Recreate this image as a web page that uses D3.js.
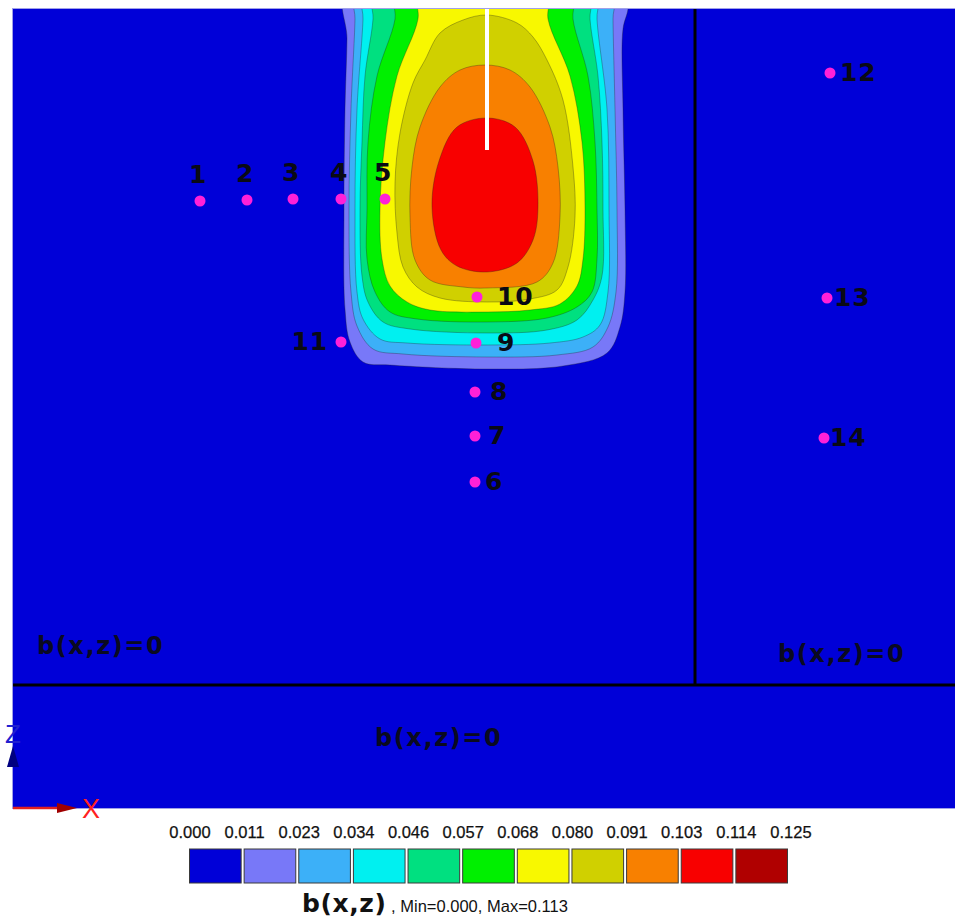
<!DOCTYPE html>
<html>
<head>
<meta charset="utf-8">
<script src="https://cdn.jsdelivr.net/npm/d3@7"></script>
<style>
  html, body { margin: 0; padding: 0; background: #ffffff; }
  svg { display: block; }
</style>
</head>
<body>
<svg id="chart" width="955" height="917"></svg>
<script>
// Contour levels of b(x,z) and the fill colour of each band
const levels = [0.000, 0.011, 0.023, 0.034, 0.046, 0.057, 0.068, 0.080, 0.091, 0.103, 0.114, 0.125];
const levelLabels = ["0.000", "0.011", "0.023", "0.034", "0.046", "0.057", "0.068", "0.080", "0.091", "0.103", "0.114", "0.125"];
const bandColors = ["#0000d8", "#7878f8", "#3cb0f8", "#00f0f0", "#00e080", "#00f000", "#f8f800", "#d0d000", "#f88000", "#f80000", "#b00000"];

// Domain of the section (x across, depth measured down from the top edge)
const xDomain = [0, 94.2];
const depthDomain = [0, 79.9];

// Iso-lines of b(x,z) as [x, depth] outlines, lowest level first
const contour011 = [[33.4,-2],[33.4,3],[33.2,10],[33.1,20],[33.2,30],[33.7,33.3],[35.0,35.3],[37.7,35.6],[47.4,36.0],[55.0,35.7],[59.4,34.4],[60.7,31.8],[61.2,28.3],[61.2,20],[61.0,10],[61.0,2],[61.5,0],[61.5,-2]];
const contour023 = [[34.2,-2],[34.2,1],[33.8,10],[33.6,20],[33.8,28.3],[34.4,31.7],[36.0,34.0],[39.0,34.5],[47.4,34.8],[54.4,34.6],[58.0,33.8],[59.5,31.8],[60.3,28.3],[60.4,20],[60.2,10],[60.0,1],[60.0,-2]];
const contour034 = [[35.0,-2],[35.0,1],[34.4,10],[34.2,20],[34.4,28.3],[35.0,31.0],[36.7,33.0],[39.4,33.4],[47.4,33.6],[53.7,33.4],[57.0,32.8],[58.7,31.6],[59.5,28.3],[59.6,20],[59.4,10],[58.4,1],[58.4,-2]];
const contour046 = [[36.0,-2],[36.0,1],[35.2,6.7],[34.9,13.3],[34.7,20],[34.9,26.7],[35.5,29.3],[37.0,31.3],[39.7,32.0],[47.4,32.4],[53.4,32.1],[56.4,31.1],[58.0,29.1],[58.9,26.7],[59.0,20],[58.9,13.3],[58.5,6.7],[57.7,1],[57.7,-2]];
const contour057 = [[38.2,-2],[38.2,1],[36.4,6.7],[35.5,13.3],[35.4,20],[35.4,25],[36.2,28.3],[37.7,30.3],[40.4,31.0],[47.4,31.3],[53.4,30.9],[56.4,29.8],[57.9,28.3],[58.4,25],[58.4,20],[58.2,13.3],[57.5,6.7],[56.0,1],[56.0,-2]];
const contour068 = [[40.5,-2],[40.5,1],[38.4,6.7],[37.2,13.3],[36.7,20],[36.9,25],[37.7,27.7],[39.4,29.3],[41.7,30.1],[47.4,30.3],[51.7,30.1],[54.7,29.5],[56.4,27.7],[57.0,25],[57.2,20],[56.9,13.3],[55.7,6.7],[53.5,1],[53.5,-2]];
const contour080 = [[47.4,0.6],[50.4,1.4],[52.0,2.8],[53.4,5.1],[55.0,9.1],[56.0,15.8],[56.2,20.8],[55.5,25.8],[54.4,28.1],[51.7,29.0],[47.4,29.3],[42.7,28.9],[40.4,27.8],[39.0,25.8],[38.4,22.4],[38.2,17.4],[38.7,12.4],[40.0,7.4],[41.2,5.1],[42.7,2.4],[45.0,1.1]];
const contour091 = [[47.2,5.6],[49.7,6.1],[51.7,7.8],[53.7,11.8],[54.5,15.8],[54.7,20.8],[54.0,25.4],[52.4,27.3],[47.4,27.9],[45.0,27.8],[41.7,27.1],[40.2,25.1],[39.7,20.8],[39.9,15.8],[40.7,11.8],[42.7,7.8],[44.7,6.1]];
const contour103 = [[47.4,10.9],[50.2,11.8],[52.0,15.2],[52.5,19.8],[52.0,23.1],[50.4,25.4],[47.4,26.3],[44.4,25.7],[42.8,24.1],[41.9,19.8],[42.6,15.2],[44.4,11.8]];
const contours = [contour011, contour023, contour034, contour046, contour057, contour068, contour080, contour091, contour103];

// Source line (x, top depth, bottom depth)
const sourceX = 47.4;
const sourceDepth = [0, 14.1];

// Layer boundaries
const interfaceDepth = 67.6;
const faultX = 68.2;

// Observation points
const probeNames = ["1", "2", "3", "4", "5", "6", "7", "8", "9", "10", "11", "12", "13", "14"];
const probeX = [18.7, 23.4, 28.0, 32.8, 37.2, 46.2, 46.2, 46.2, 46.3, 46.4, 32.8, 81.7, 81.4, 81.1];
const probeDepth = [19.2, 19.1, 19.0, 19.0, 19.0, 47.3, 42.7, 38.3, 33.4, 28.8, 33.3, 6.4, 28.9, 42.9];

// Boundary condition notes
const bcText = ["b(x,z)=0", "b(x,z)=0", "b(x,z)=0"];
const bcX = [2.4, 76.5, 36.2];
const bcDepth = [64.5, 65.3, 73.7];

const minValue = 0.000, maxValue = 0.113;

// ---------------------------------------------------------------
const svg = d3.select("#chart");
const plot = { left: 13, top: 9, right: 955, bottom: 808 };

const x = d3.scaleLinear().domain(xDomain).range([plot.left, plot.right]);
const z = d3.scaleLinear().domain(depthDomain).range([plot.top, plot.bottom]);

svg.append("defs").append("clipPath").attr("id", "plotClip")
  .append("rect")
  .attr("x", x(xDomain[0])).attr("y", z(depthDomain[0]))
  .attr("width", x(xDomain[1]) - x(xDomain[0]))
  .attr("height", z(depthDomain[1]) - z(depthDomain[0]));

const field = svg.append("g").attr("clip-path", "url(#plotClip)");

// zero band fills the whole section
field.append("rect")
  .attr("x", x(xDomain[0])).attr("y", z(depthDomain[0]))
  .attr("width", x(xDomain[1]) - x(xDomain[0]))
  .attr("height", z(depthDomain[1]) - z(depthDomain[0]))
  .attr("fill", bandColors[0]);

const outline = d3.line()
  .x(d => x(d[0]))
  .y(d => z(d[1]))
  .curve(d3.curveCatmullRomClosed.alpha(0.5));

field.selectAll("path.band")
  .data(contours)
  .join("path")
  .attr("class", "band")
  .attr("d", outline)
  .attr("fill", (d, i) => bandColors[i + 1])
  .attr("stroke", "rgba(30,30,30,0.45)")
  .attr("stroke-width", 0.7);

// source line
field.append("line")
  .attr("x1", x(sourceX)).attr("x2", x(sourceX))
  .attr("y1", z(sourceDepth[0])).attr("y2", z(sourceDepth[1]))
  .attr("stroke", "#ffffff").attr("stroke-width", 4);

// boundaries
field.append("line")
  .attr("x1", x(xDomain[0])).attr("x2", x(xDomain[1]))
  .attr("y1", z(interfaceDepth)).attr("y2", z(interfaceDepth))
  .attr("stroke", "#000000").attr("stroke-width", 3);
field.append("line")
  .attr("x1", x(faultX)).attr("x2", x(faultX))
  .attr("y1", z(depthDomain[0])).attr("y2", z(interfaceDepth))
  .attr("stroke", "#000000").attr("stroke-width", 3);

// frame edge
svg.append("rect")
  .attr("x", x(xDomain[0]) - 0.5).attr("y", z(depthDomain[0]) - 0.5)
  .attr("width", x(xDomain[1]) - x(xDomain[0]) + 1)
  .attr("height", z(depthDomain[1]) - z(depthDomain[0]) + 1)
  .attr("fill", "none").attr("stroke", "#a0a0e8").attr("stroke-width", 1);

// boundary condition notes
const labelFont = "'DejaVu Sans', Verdana, sans-serif";
svg.selectAll("text.bc")
  .data(bcText)
  .join("text")
  .attr("class", "bc")
  .attr("x", (d, i) => x(bcX[i]))
  .attr("y", (d, i) => z(bcDepth[i]))
  .attr("font-family", labelFont)
  .attr("font-weight", "bold")
  .attr("font-size", 24)
  .attr("letter-spacing", 1.6)
  .attr("fill", "#0a0a20")
  .text(d => d);

// observation points
const probes = probeNames.map((name, i) => ({ name, x: probeX[i], d: probeDepth[i] }));
// label placement around each point
const placeAbove = new Set(["1", "2", "3", "4", "5"]);
const placeLeft = new Set(["11"]);
const rightGap = { "6": 10, "7": 13, "8": 15, "9": 21, "10": 20, "12": 10, "13": 7, "14": 6 };

const pg = svg.append("g");
pg.selectAll("circle")
  .data(probes)
  .join("circle")
  .attr("cx", d => x(d.x))
  .attr("cy", d => z(d.d))
  .attr("r", 5.5)
  .attr("fill", "#ff20d8");

pg.selectAll("text")
  .data(probes)
  .join("text")
  .attr("x", d => {
    if (placeAbove.has(d.name)) return x(d.x) - 2;
    if (placeLeft.has(d.name)) return x(d.x) - 13;
    return x(d.x) + rightGap[d.name];
  })
  .attr("y", d => placeAbove.has(d.name) ? z(d.d) - 18 : z(d.d) + 8)
  .attr("text-anchor", d => placeAbove.has(d.name) ? "middle" : (placeLeft.has(d.name) ? "end" : "start"))
  .attr("font-family", labelFont)
  .attr("font-weight", "bold")
  .attr("font-size", 25)
  .attr("letter-spacing", 0.8)
  .attr("fill", "#0a0a14")
  .text(d => d.name);

// coordinate triad
const triad = svg.append("g");
const ox = x(xDomain[0]), oy = z(depthDomain[1]);
triad.append("line")
  .attr("x1", ox).attr("y1", oy).attr("x2", ox + 50).attr("y2", oy)
  .attr("stroke", "#e02020").attr("stroke-width", 2.5);
triad.append("path")
  .attr("d", `M${ox + 44},${oy - 5}L${ox + 64},${oy}L${ox + 44},${oy + 5}Z`)
  .attr("fill", "#a00000");
triad.append("text")
  .attr("x", ox + 69).attr("y", oy + 10)
  .attr("font-family", "'Liberation Sans', Arial, sans-serif")
  .attr("font-size", 27)
  .attr("fill", "#ff2020")
  .text("X");
triad.append("path")
  .attr("d", `M${ox - 6},${oy - 41}L${ox},${oy - 62}L${ox + 6},${oy - 41}Z`)
  .attr("fill", "#000080");
triad.append("text")
  .attr("x", ox - 8).attr("y", oy - 65)
  .attr("font-family", "'Liberation Sans', Arial, sans-serif")
  .attr("font-size", 26)
  .attr("fill", "#2020d0")
  .text("Z");

// colour bar
const cb = d3.scaleLinear().domain([0, bandColors.length]).range([189, 790]);
const cbTop = 849, cbHeight = 34;
const cbg = svg.append("g");
cbg.selectAll("rect")
  .data(bandColors)
  .join("rect")
  .attr("x", (d, i) => cb(i) + 0.5)
  .attr("y", cbTop)
  .attr("width", (d, i) => cb(i + 1) - cb(i) - 3)
  .attr("height", cbHeight)
  .attr("fill", d => d)
  .attr("stroke", "#3a3a3a")
  .attr("stroke-width", 1);

cbg.selectAll("text")
  .data(levelLabels)
  .join("text")
  .attr("x", (d, i) => cb(i) + 1)
  .attr("y", 838)
  .attr("text-anchor", "middle")
  .attr("font-family", "'Liberation Sans', Arial, sans-serif")
  .attr("font-size", 16.5)
  .attr("fill", "#111111")
  .attr("stroke", "#111111")
  .attr("stroke-width", 0.25)
  .text(d => d);

const title = cbg.append("text")
  .attr("x", 302).attr("y", 912)
  .attr("fill", "#111111");
title.append("tspan")
  .attr("font-family", labelFont)
  .attr("font-weight", "bold")
  .attr("font-size", 25)
  .attr("letter-spacing", 0.6)
  .text("b(x,z)");
title.append("tspan")
  .attr("font-family", "'Liberation Sans', Arial, sans-serif")
  .attr("font-size", 16.5)
  .text(` , Min=${minValue.toFixed(3)}, Max=${maxValue.toFixed(3)}`);
</script>
</body>
</html>
